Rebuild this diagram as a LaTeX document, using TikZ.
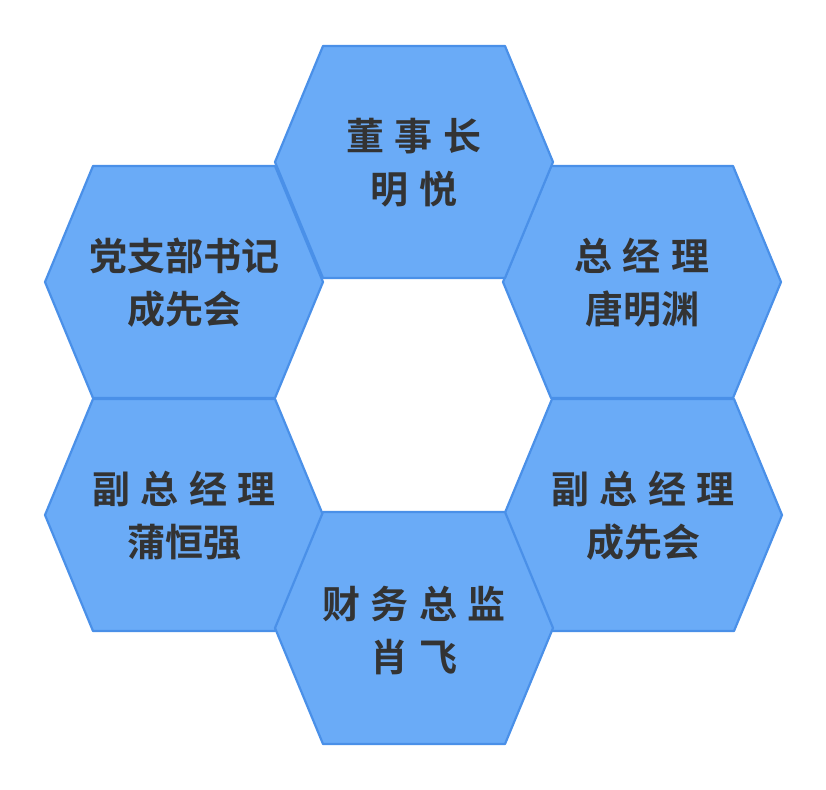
\documentclass[tikz,border=0pt]{standalone}
\usepackage{fontspec}
\newfontfamily\cjk{Noto Sans CJK SC Bold}
\definecolor{hexfill}{HTML}{6AABF7}
\definecolor{hexline}{HTML}{4A90E8}
\definecolor{txt}{HTML}{333333}
\newcommand{\hexat}[2]{%
  \fill[hexfill,draw=hexline,line width=2.2pt,line join=round]
  (#1-139,#2) -- (#1-91,#2-116) -- (#1+91,#2-116) -- (#1+139,#2) -- (#1+91,#2+116) -- (#1-91,#2+116) -- cycle;}
\newcommand{\gapsp}{\hspace{0.28em}}
\begin{document}
\begin{tikzpicture}[x=1pt,y=-1pt,
  lbl/.style={font=\cjk\fontsize{38}{53}\selectfont,text=txt,align=center}]
\useasboundingbox (0,0) rectangle (826,789);
\hexat{184}{282}
\hexat{642}{282}
\hexat{184}{515}
\hexat{643}{515}
\hexat{414}{162}
\hexat{414}{628}
\node[lbl] (a) at (414,163) {董\gapsp 事\gapsp 长\\明\gapsp 悦};
\node[lbl] (b) at (184,283) {党支部书记\\成先会};
\node[lbl] (c) at (642,283) {总\gapsp 经\gapsp 理\\唐明渊};
\node[lbl] (d) at (184,516) {副\gapsp 总\gapsp 经\gapsp 理\\蒲恒强};
\node[lbl] (e) at (643,516) {副\gapsp 总\gapsp 经\gapsp 理\\成先会};
\node[lbl] (f) at (414,630) {财\gapsp 务\gapsp 总\gapsp 监\\肖\gapsp 飞};
\end{tikzpicture}
\end{document}
